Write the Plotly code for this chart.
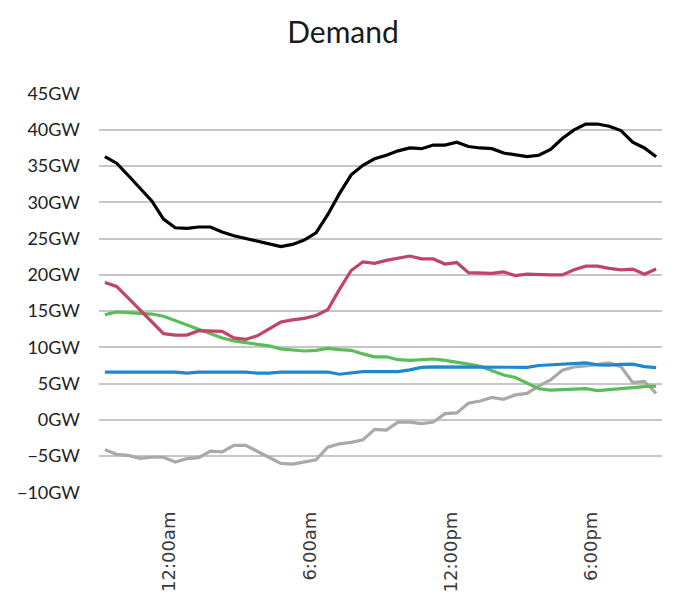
import pandas as pd
import plotly.graph_objects as go

# Half-hourly timestamps (48 points)
times = pd.date_range("2020-01-01 21:15", periods=48, freq="30min")

black = [36.3, 35.4, 33.7, 31.9, 30.2, 27.7, 26.5, 26.4, 26.6, 26.6,
         25.9, 25.4, 25.0, 24.6, 24.2, 23.9, 24.2, 24.8, 25.8, 28.3,
         31.2, 33.8, 35.1, 36.0, 36.5, 37.1, 37.5, 37.4, 37.9, 37.9,
         38.3, 37.7, 37.5, 37.4, 36.8, 36.6, 36.3, 36.5, 37.3, 38.8,
         40.0, 40.8, 40.8, 40.5, 39.9, 38.3, 37.5, 36.3]

red = [18.95, 18.4, 16.8, 15.2, 13.6, 11.9, 11.7, 11.7, 12.3, 12.3,
       12.2, 11.3, 11.1, 11.6, 12.6, 13.5, 13.8, 14.0, 14.4, 15.2,
       18.0, 20.6, 21.8, 21.6, 22.0, 22.3, 22.6, 22.2, 22.2, 21.5,
       21.7, 20.3, 20.2, 20.2, 20.4, 19.9, 20.1, 20.0, 20.0, 20.0,
       20.7, 21.2, 21.2, 20.9, 20.7, 20.8, 20.1, 20.8]

green = [14.5, 14.9, 14.8, 14.7, 14.6, 14.3, 13.7, 13.0, 12.4, 11.8,
         11.3, 10.9, 10.7, 10.5, 10.2, 9.8, 9.6, 9.5, 9.6, 9.85,
         9.7, 9.6, 9.1, 8.7, 8.7, 8.3, 8.2, 8.35, 8.4, 8.2,
         8.0, 7.7, 7.4, 6.85, 6.2, 5.85, 5.1, 4.3, 4.1, 4.2,
         4.3, 4.3, 4.05, 4.2, 4.35, 4.5, 4.6, 4.65]

blue = [6.6, 6.6, 6.6, 6.6, 6.6, 6.6, 6.6, 6.45, 6.6, 6.6,
        6.6, 6.6, 6.6, 6.45, 6.45, 6.6, 6.6, 6.5, 6.6, 6.6,
        6.3, 6.5, 6.65, 6.65, 6.65, 6.65, 6.9, 7.25, 7.3, 7.3,
        7.3, 7.3, 7.35, 7.35, 7.35, 7.35, 7.25, 7.5, 7.6, 7.75,
        7.85, 7.85, 7.6, 7.55, 7.65, 7.7, 7.35, 7.2]

gray = [-4.1, -4.75, -4.9, -5.3, -5.15, -5.15, -5.8, -5.35, -5.2, -4.3,
        -4.4, -3.5, -3.5, -4.3, -5.1, -6.0, -6.1, -5.8, -5.5, -3.75,
        -3.3, -3.1, -2.75, -1.3, -1.4, -0.3, -0.3, -0.5, -0.3, 0.87,
        0.96, 2.3, 2.6, 3.1, 2.85, 3.45, 3.65, 4.7, 5.5, 6.85,
        7.3, 7.45, 7.7, 7.85, 7.35, 5.15, 5.3, 3.65]

tick_times = ["2020-01-02 00:00", "2020-01-02 06:00",
              "2020-01-02 12:00", "2020-01-02 18:00"]
tick_labels = ["12:00am", "6:00am", "12:00pm", "6:00pm"]
y_ticks = [-10, -5, 0, 5, 10, 15, 20, 25, 30, 35, 40, 45]
y_labels = ["\u221210GW", "\u22125GW", "0GW", "5GW", "10GW", "15GW",
            "20GW", "25GW", "30GW", "35GW", "40GW", "45GW"]

series = [
    ("gray", gray, "#A9A9A9"),
    ("green", green, "#5BBD5A"),
    ("blue", blue, "#1F87CF"),
    ("red", red, "#BF4468"),
    ("black", black, "#000000"),
]

fig = go.Figure()
for name, vals, col in series:
    fig.add_trace(go.Scatter(x=times, y=vals, mode="lines", name=name,
                             line=dict(color=col, width=3.2),
                             showlegend=False))

# page has an 8px body margin, so the figure is 670x592
fig.update_layout(
    width=670, height=592,
    margin=dict(l=91, r=16, t=85, b=107),
    paper_bgcolor="white", plot_bgcolor="white",
    title=dict(text="Demand", x=0.5, xanchor="center", y=0.958, yanchor="middle",
               font=dict(family="Lato", size=30, color="#1a1a1a")),
)
fig.update_xaxes(
    type="date", automargin=False,
    range=["2020-01-01 21:00", "2020-01-02 21:00"],
    tickmode="array", tickvals=tick_times, ticktext=tick_labels,
    tickangle=-90, showgrid=False, zeroline=False, showline=False,
    ticks="", ticklabelstandoff=14,
    tickfont=dict(family="DejaVu Sans", size=18, color="#3a3a3a"),
)
fig.update_yaxes(
    automargin=False,
    range=[-10.08, 45.08],
    tickmode="array", tickvals=y_ticks, ticktext=y_labels,
    showgrid=True, gridcolor="#C6C6C6", gridwidth=1.5,
    zeroline=False, showline=False, ticks="", ticklabelstandoff=18,
    tickfont=dict(family="Lato", size=18, color="#222222"),
)

fig.write_html("out.html")
